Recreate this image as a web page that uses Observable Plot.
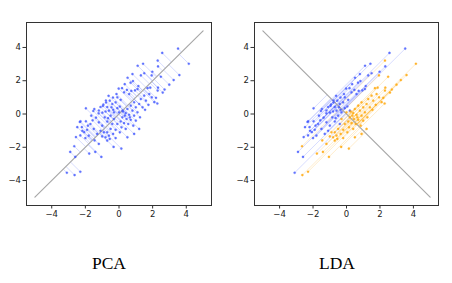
<!DOCTYPE html>
<html><head><meta charset="utf-8">
<script src="https://cdn.jsdelivr.net/npm/d3@7"></script>
<script src="https://cdn.jsdelivr.net/npm/@observablehq/plot@0.6"></script>
<style>
body{margin:0;background:#fff;width:452px;height:283px;position:relative;overflow:hidden}
.p{position:absolute;top:0}
.t{position:absolute;top:253px;font-family:"Liberation Serif","Times New Roman",serif;font-size:17.5px;color:#000;text-align:center;width:80px}
</style></head><body>
<div id="a" class="p" style="left:0"></div>
<div id="b" class="p" style="left:226px"></div>
<div class="t" style="left:69px">PCA</div>
<div class="t" style="left:297px">LDA</div>
<script>
const titles = ["PCA", "LDA"];
const ticks = [-4, -2, 0, 2, 4];
const pcaLine = [[-5, -5], [5, 5]];
const ldaLine = [[-5, 5], [5, -5]];
const classA = [
[3.51,3.93],[2.57,3.67],[2.32,2.86],[1.43,3.02],[1.11,2.90],[1.98,2.54],[1.30,2.32],[1.50,2.45],[0.51,2.18],[0.83,1.98],
[0.69,1.88],[1.15,1.68],[0.34,1.79],[0.18,1.55],[-0.02,1.53],[0.47,1.45],[0.73,1.39],[0.95,1.42],[1.10,1.50],[0.60,1.20],
[0.30,1.30],[-0.62,1.09],[-0.36,0.99],[-0.10,1.00],[0.10,0.85],[-0.55,0.80],[-0.77,0.69],[-0.40,0.60],[-0.20,0.70],[-0.96,0.48],
[-0.70,0.42],[-0.45,0.40],[-0.10,0.35],[0.05,0.45],[-1.10,0.42],[-1.20,0.21],[-1.53,0.18],[-0.93,0.57],[-0.78,0.81],[-0.99,0.08],
[-1.47,0.30],[-1.97,0.34],[-1.21,0.04],[-0.80,0.15],[-0.60,0.20],[-0.30,0.10],[0.20,0.20],[-0.50,-0.10],[-0.85,-0.20],[-1.37,-0.22],
[-1.57,-0.38],[-2.29,-0.44],[-1.97,-0.44],[-2.33,-0.48],[-1.70,-0.60],[-1.20,-0.50],[-1.00,-0.70],[-0.70,-0.45],[-0.40,-0.60],[-2.21,-0.79],
[-2.48,-0.79],[-1.90,-0.95],[-1.50,-0.90],[-2.07,-1.09],[-2.18,-1.01],[-1.10,-1.01],[-1.30,-1.20],[-2.30,-1.29],[-2.56,-1.39],[-1.80,-1.30],
[-2.00,-1.45],[-2.90,-2.28],[-2.60,-2.58],[-3.10,-3.53],[-0.15,1.20],[0.80,2.40],[-0.35,0.25],[-1.65,-0.10],[-0.65,-0.25],[-1.85,-0.70]
];
const classB = [
[4.15,3.02],[2.30,3.21],[3.59,2.34],[2.49,2.24],[3.25,2.04],[2.99,1.76],[2.71,1.47],[2.32,1.58],[2.30,1.41],[2.60,1.29],
[2.20,0.97],[2.10,0.71],[2.28,0.63],[1.94,2.32],[1.86,1.58],[1.70,1.55],[1.80,1.20],[1.50,1.10],[1.95,1.00],[1.60,0.80],
[1.30,0.90],[1.75,0.55],[1.20,0.60],[1.40,0.40],[0.90,0.70],[1.00,0.40],[0.70,0.50],[0.50,0.30],[0.80,0.20],[1.10,0.10],
[0.40,0.05],[0.60,-0.05],[0.90,-0.10],[0.20,-0.20],[0.45,-0.30],[0.70,-0.35],[1.00,-0.40],[0.10,-0.45],[0.30,-0.55],[0.55,-0.60],
[0.85,-0.70],[-0.10,-0.60],[0.15,-0.80],[0.40,-0.90],[-0.30,-0.30],[0.00,0.10],[1.25,-0.20],[-0.50,-0.90],[-0.70,-1.10],[-0.90,-1.10],
[-0.60,-1.30],[-0.80,-1.40],[-0.55,-1.50],[-0.35,-1.20],[-1.00,-1.35],[-0.70,-1.60],[-0.20,-1.45],[-1.45,-1.59],[-1.20,-1.80],[-0.32,-1.98],
[0.14,-2.08],[-1.77,-2.38],[-1.41,-2.28],[-1.05,-2.58],[-2.66,-1.94],[-2.30,-3.47],[-2.64,-3.67],[0.90,-1.20],[0.50,-1.40],[1.20,-0.90],
[0.25,0.15],[0.65,-0.20],[0.35,-0.10],[-0.20,-0.95],[1.55,0.25],[0.05,-1.10]
];
const BLUE = "#3d55ff", ORANGE = "#ffa500";
const fmt = d3.format("d");
function panel(lineData, projFn, groups, leftMargin, rightMargin) {
  const marks = [];
  for (const g of groups) {
    marks.push(Plot.link(g.data, {
      x1: d => d[0], y1: d => d[1],
      x2: d => projFn(d)[0], y2: d => projFn(d)[1],
      stroke: g.line, strokeOpacity: 0.2, strokeWidth: 1
    }));
  }
  marks.push(Plot.line(lineData, {x: d => d[0], y: d => d[1], stroke: "#a8a8a8", strokeWidth: 1.2}));
  for (const g of groups) {
    marks.push(Plot.dot(g.data, {x: d => d[0], y: d => d[1], r: 1.1, fill: g.color, fillOpacity: 0.8, stroke: g.color, strokeOpacity: 0.3, strokeWidth: 0.8}));
  }
  marks.push(Plot.frame({stroke: "#333", strokeWidth: 1}));
  marks.push(Plot.axisX({ticks, tickFormat: fmt, tickSize: 3.5, tickPadding: 2, label: null, stroke: "#333"}));
  marks.push(Plot.axisY({ticks, tickFormat: fmt, tickSize: 3.5, tickPadding: 2, label: null, stroke: "#333"}));
  return Plot.plot({
    width: 226, height: 225,
    marginLeft: leftMargin, marginRight: rightMargin, marginTop: 22, marginBottom: 20,
    x: {domain: [-5.5, 5.5]}, y: {domain: [-5.5, 5.5]},
    style: {fontFamily: "DejaVu Sans", fontSize: "8.5px", color: "#222", background: "white"},
    marks
  });
}
const pca = p => { const m = (p[0] + p[1]) / 2; return [m, m]; };
const lda = p => { const m = (p[0] - p[1]) / 2; return [m, -m]; };
const all = classA.concat(classB);
document.getElementById("a").append(panel(pcaLine, pca, [{data: all, color: BLUE, line: BLUE}], 26, 15));
document.getElementById("b").append(panel(ldaLine, lda, [{data: classA, color: BLUE, line: BLUE}, {data: classB, color: ORANGE, line: ORANGE}], 28, 14));
</script>
</body></html>
